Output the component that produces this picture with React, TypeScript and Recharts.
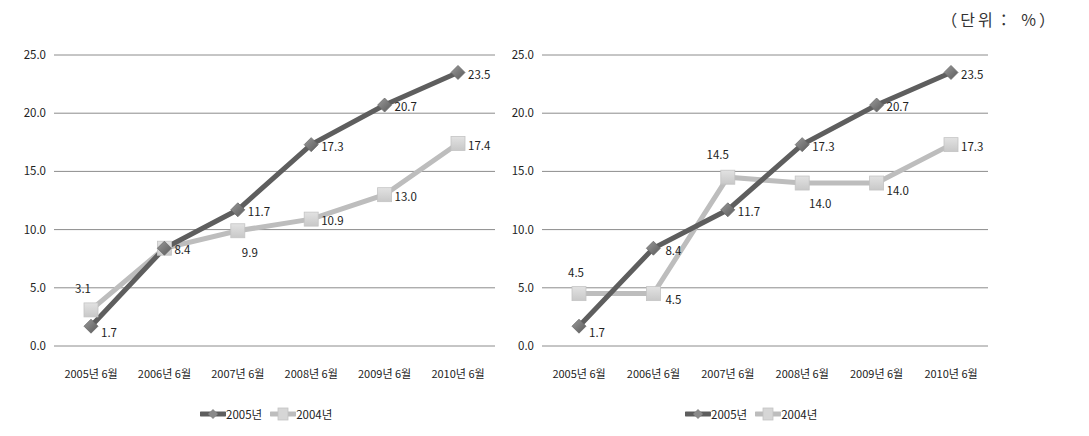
import { LineChart, Line, XAxis, YAxis, CartesianGrid, Legend, LabelList } from "recharts";

const categories = ["2005년 6월", "2006년 6월", "2007년 6월", "2008년 6월", "2009년 6월", "2010년 6월"];
const seriesNames = ["2005년", "2004년"];
const left2005 = [1.7, 8.4, 11.7, 17.3, 20.7, 23.5];
const left2004 = [3.1, 8.4, 9.9, 10.9, 13.0, 17.4];
const right2005 = [1.7, 8.4, 11.7, 17.3, 20.7, 23.5];
const right2004 = [4.5, 4.5, 14.5, 14.0, 14.0, 17.3];
const yTicks = [0, 5, 10, 15, 20, 25];
const unitText = "（단위： %）";

// label offsets [dx, dy, anchor] per point, null = no label
type Place = [number, number, string] | null;
const R: Place = [10, 3, "start"];
const placeL2005: Place[] = [[10, 8, "start"], R, R, R, R, R];
const placeL2004: Place[] = [[-8, -20, "middle"], null, [12, 23, "middle"], R, R, R];
const placeR2005: Place[] = [[10, 8, "start"], [12, 4, "start"], R, R, R, R];
const placeR2004: Place[] = [[-3, -20, "middle"], [12, 7, "start"], [-10, -21, "middle"], [18, 22, "middle"], [10, 9, "start"], R];

const DARK = "#5e5e5e";
const LIGHT = "#bdbdbd";
const FONT = "'Noto Sans CJK KR', 'Noto Sans', sans-serif";

const build = (a: number[], b: number[]) =>
  categories.map((c, i) => ({ name: c, s2005: a[i], s2004: b[i] }));

const Diamond = (p: any) => {
  const { cx, cy } = p;
  if (cx == null || cy == null) return <g />;
  const r = 7;
  return (
    <polygon
      points={`${cx},${cy - r} ${cx + r},${cy} ${cx},${cy + r} ${cx - r},${cy}`}
      fill="url(#gDia)"
      stroke="#6a6a6a"
      strokeWidth={0.8}
    />
  );
};

const Square = (p: any) => {
  const { cx, cy } = p;
  if (cx == null || cy == null) return <g />;
  const s = 7;
  return (
    <rect x={cx - s} y={cy - s} width={s * 2} height={s * 2} fill="url(#gSq)" stroke="#c4c4c4" strokeWidth={0.8} />
  );
};

const makeLabel = (places: Place[]) => (props: any) => {
  const { x, y, value, index } = props;
  const pl = places[index];
  if (!pl || x == null) return null;
  return (
    <text x={x + pl[0]} y={y + pl[1]} textAnchor={pl[2] as any} dominantBaseline="middle" fontSize={11.5} fill="#222" fontFamily={FONT}>
      {Number(value).toFixed(1)}
    </text>
  );
};

const LegendIcon = ({ color, square }: { color: string; square: boolean }) => (
  <svg width={26} height={14} style={{ display: "block" }}>
    <line x1={1} y1={7} x2={25} y2={7} stroke={color} strokeWidth={5} strokeLinecap="round" />
    {square ? (
      <rect x={8} y={1} width={10} height={12} fill="#d6d6d6" stroke="#c4c4c4" strokeWidth={0.8} />
    ) : (
      <polygon points="13,2 18,7 13,12 8,7" fill="#8a8a8a" />
    )}
  </svg>
);

const LegendBox = () => (
  <div style={{ display: "flex", alignItems: "center", fontFamily: FONT, fontSize: 11.5, color: "#222" }}>
    <LegendIcon color={DARK} square={false} />
    <span style={{ marginRight: 8 }}>{seriesNames[0]}</span>
    <LegendIcon color={LIGHT} square={true} />
    <span>{seriesNames[1]}</span>
  </div>
);

const Chart = ({ data, p2005, p2004, width, legendLeft, pad }: any) => (
  <LineChart width={width} height={436} data={data} margin={{ top: 55, right: 60, left: 0, bottom: 60 }}>
    <defs>
      <linearGradient id="gDia" x1="0" y1="0" x2="1" y2="1">
        <stop offset="0%" stopColor="#9a9a9a" />
        <stop offset="100%" stopColor="#5a5a5a" />
      </linearGradient>
      <linearGradient id="gSq" x1="0" y1="0" x2="0" y2="1">
        <stop offset="0%" stopColor="#e2e2e2" />
        <stop offset="100%" stopColor="#c8c8c8" />
      </linearGradient>
    </defs>
    <CartesianGrid vertical={false} stroke="#8c8c8c" strokeWidth={1} />
    <XAxis
      dataKey="name"
      axisLine={false}
      tickLine={false}
      height={30}
      tickMargin={18}
      padding={{ left: pad, right: pad }}
      interval={0}
      tick={{ fontSize: 11, fill: "#222", fontFamily: FONT }}
    />
    <YAxis
      width={54}
      domain={[0, 25]}
      ticks={yTicks}
      axisLine={false}
      tickLine={false}
      tickMargin={2}
      tickFormatter={(v: number) => v.toFixed(1)}
      tick={{ fontSize: 11.5, fill: "#222", fontFamily: FONT }}
    />
    <Legend
      layout="vertical"
      align="center"
      verticalAlign="middle"
      content={() => <LegendBox />}
      wrapperStyle={{ position: "absolute", top: 406, left: legendLeft, width: "auto" }}
    />
    <Line
      dataKey="s2004"
      name={seriesNames[1]}
      stroke={LIGHT}
      strokeWidth={5}
      dot={(p: any) => <Square key={`sq-${p.index}`} {...p} />}
      activeDot={false}
      isAnimationActive={false}
    >
      <LabelList dataKey="s2004" content={makeLabel(p2004)} />
    </Line>
    <Line
      dataKey="s2005"
      name={seriesNames[0]}
      stroke={DARK}
      strokeWidth={5}
      dot={(p: any) => <Diamond key={`di-${p.index}`} {...p} />}
      activeDot={false}
      isAnimationActive={false}
    >
      <LabelList dataKey="s2005" content={makeLabel(p2005)} />
    </Line>
  </LineChart>
);

export default function App() {
  return (
    <div style={{ position: "absolute", left: 0, top: 0, width: 1089, height: 436, background: "#fff", overflow: "hidden" }}>
      <div style={{ position: "absolute", left: 0, top: 0 }}>
        <Chart data={build(left2005, left2004)} p2005={placeL2005} p2004={placeL2004} width={555} legendLeft={200} pad={37} />
      </div>
      <div style={{ position: "absolute", left: 488, top: 0 }}>
        <Chart data={build(right2005, right2004)} p2005={placeR2005} p2004={placeR2004} width={560} legendLeft={197} pad={37} />
      </div>
      <div
        style={{
          position: "absolute",
          right: 31,
          top: 7,
          fontSize: 16,
          letterSpacing: 3,
          fontFamily: "'Noto Sans CJK KR', serif",
          color: "#333",
        }}
      >
        {unitText}
      </div>
    </div>
  );
}
